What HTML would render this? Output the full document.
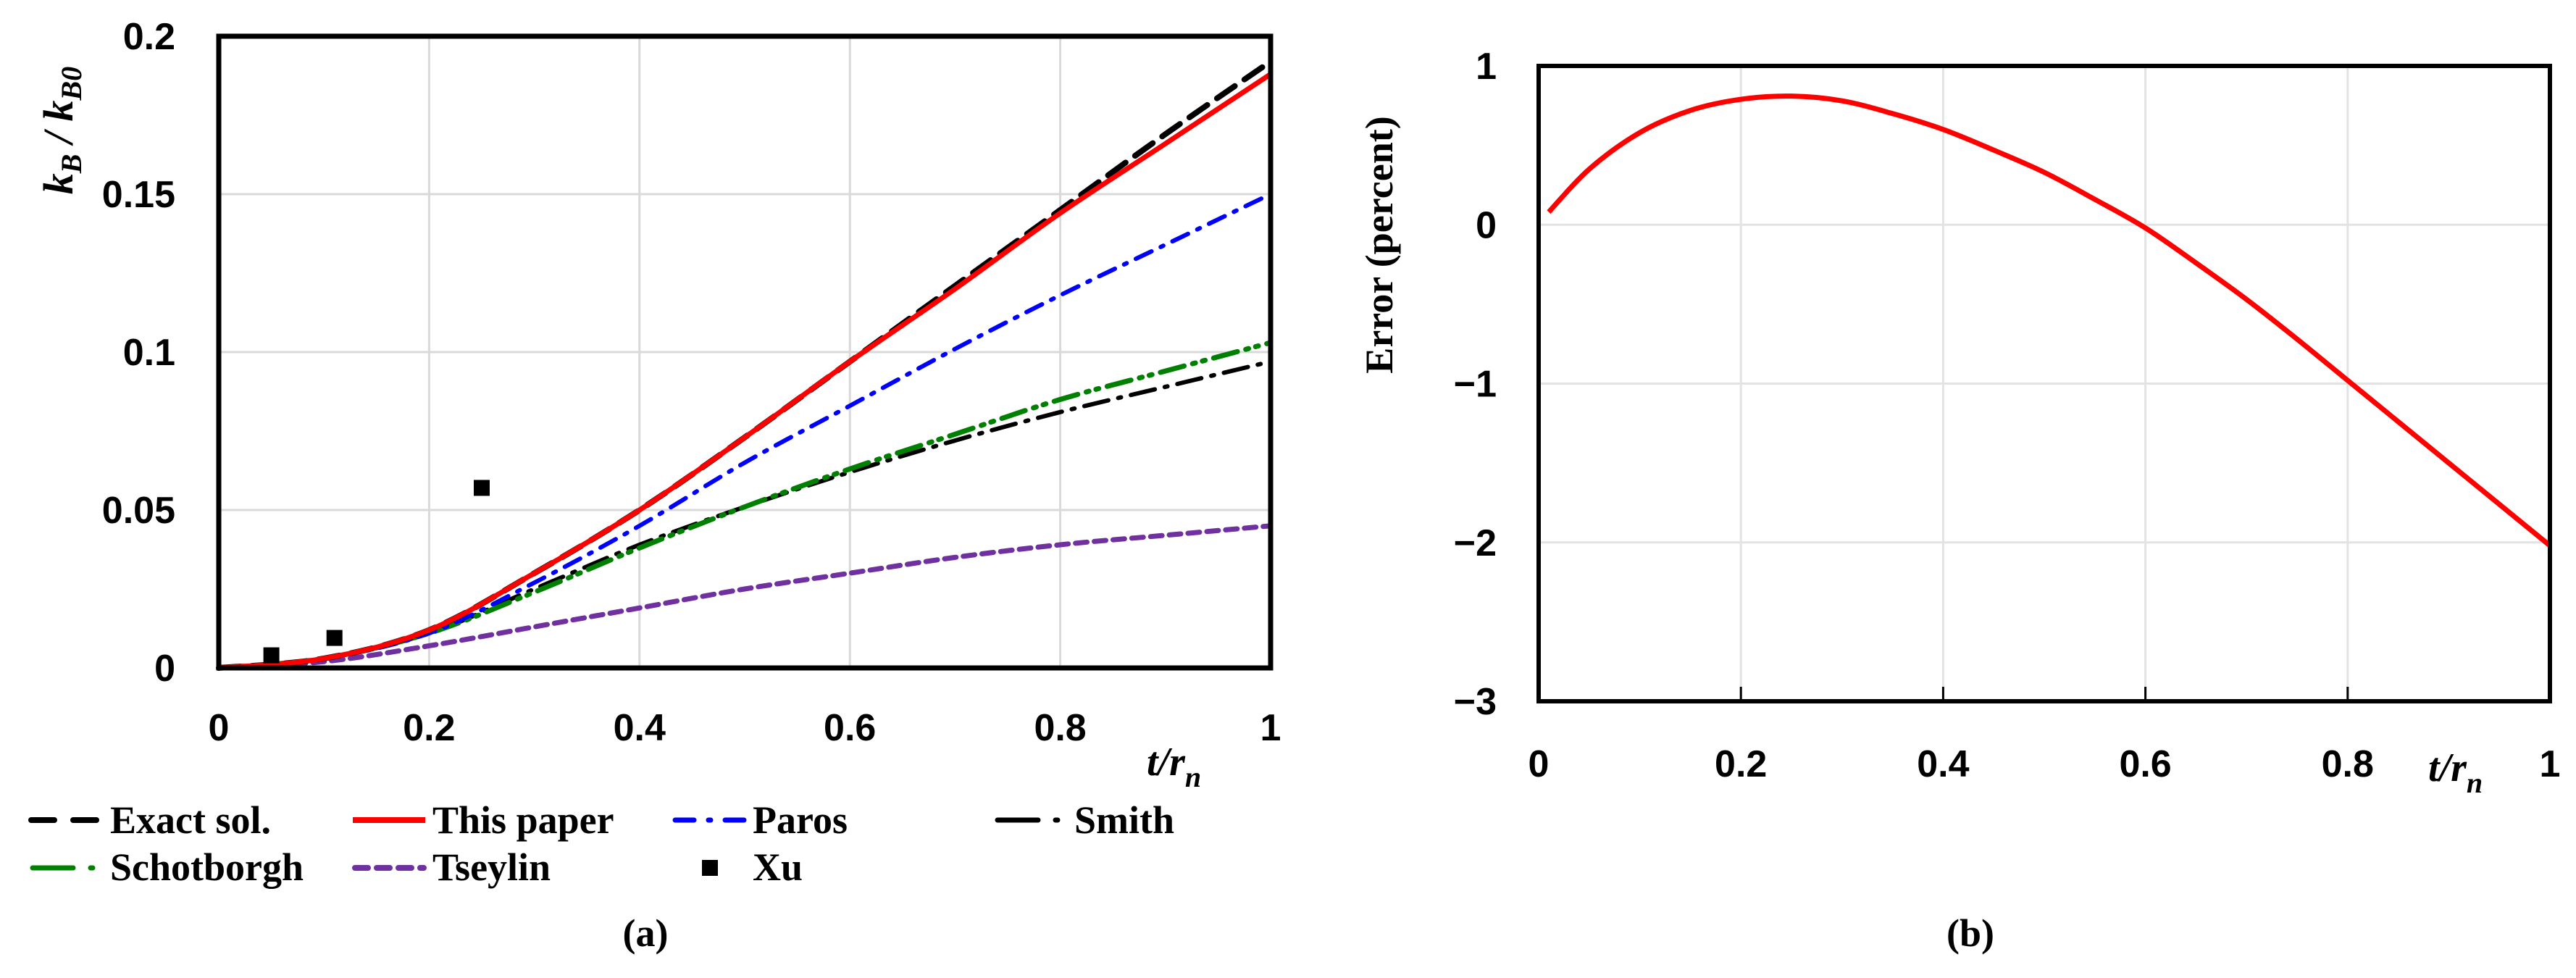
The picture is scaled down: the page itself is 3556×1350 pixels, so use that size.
<!DOCTYPE html>
<html><head><meta charset="utf-8"><style>
html,body{margin:0;padding:0;background:#fff;width:3556px;height:1350px;overflow:hidden}
svg{display:block}
.tk{font-family:"Liberation Sans",sans-serif;font-weight:bold;font-size:52px;fill:#000}
.lg{font-family:"Liberation Serif",serif;font-weight:bold;font-size:54px;fill:#000}
.it{font-family:"Liberation Serif",serif;font-weight:bold;font-style:italic;fill:#000}
</style></head><body>
<svg id="svg" width="3556" height="1350" xmlns="http://www.w3.org/2000/svg"></svg>
<script>
const xsA=[0,0.1,0.2,0.3,0.4,0.5,0.6,0.7,0.8,0.9,1];
const exactY=[0,0.003,0.012,0.03,0.05,0.073,0.097,0.121,0.145,0.169,0.192];
const paperY=[0,0.003,0.012,0.03,0.05,0.073,0.097,0.12,0.144,0.166,0.188];
const parosY=[0,0.003,0.011,0.027,0.045,0.065,0.083,0.101,0.118,0.134,0.15];
const schotY=[0,0.003,0.011,0.024,0.038,0.051,0.063,0.074,0.085,0.094,0.103];
const smithY=[0,0.003,0.011,0.025,0.039,0.051,0.062,0.072,0.081,0.089,0.097];
const tseyY=[0,0.002,0.007,0.013,0.019,0.025,0.03,0.035,0.039,0.042,0.045];
const xuX=[0.05,0.11,0.25];
const xuY=[0.004,0.0095,0.057];
const errX=[0.01,0.05,0.1,0.15,0.2,0.25,0.3,0.35,0.4,0.45,0.5,0.55,0.6,0.65,0.7,0.75,0.8,0.85,0.9,0.95,1];
const errY=[0.08,0.35,0.58,0.72,0.79,0.81,0.78,0.70,0.6,0.47,0.33,0.16,-0.02,-0.24,-0.47,-0.72,-0.98,-1.24,-1.5,-1.76,-2.02];
const xTicks=["0","0.2","0.4","0.6","0.8","1"];
const yTicksA=["0","0.05","0.1","0.15","0.2"];
const yTicksB=["-3","-2","-1","0","1"];

const NS="http://www.w3.org/2000/svg";
const svg=document.getElementById('svg');
function mk(tag,attrs,parent){const e=document.createElementNS(NS,tag);for(const k in attrs)e.setAttribute(k,attrs[k]);(parent||svg).appendChild(e);return e;}
const A={l:302,r:1754,t:50,b:922};
const ax=v=>A.l+v*(A.r-A.l), ay=v=>A.b-v/0.2*(A.b-A.t);
const B={l:2124,r:3520,t:91,b:968};
const bx=v=>B.l+v*(B.r-B.l), by=v=>B.b-(v+3)/4*(B.b-B.t);
function smooth(xs,ys,fx,fy){const p=xs.map((x,i)=>[fx(x),fy(ys[i])]);let d="M"+p[0][0]+","+p[0][1];
 for(let i=0;i<p.length-1;i++){const p0=p[i-1]||p[i],p1=p[i],p2=p[i+1],p3=p[i+2]||p2;
 d+=" C"+(p1[0]+(p2[0]-p0[0])/6)+","+(p1[1]+(p2[1]-p0[1])/6)+" "+(p2[0]-(p3[0]-p1[0])/6)+","+(p2[1]-(p3[1]-p1[1])/6)+" "+p2[0]+","+p2[1];}return d;}

xTicks.forEach((t,i)=>{const v=i*0.2;
 if(i>0&&i<5){const g=mk('line',{x1:ax(v),x2:ax(v),y1:A.t,y2:A.b,stroke:'#d9d9d9','stroke-width':3});
 }
 const tx=mk('text',{x:ax(v),y:1022,'text-anchor':'middle',class:'tk'});tx.textContent=t;
 });
yTicksA.forEach((t,i)=>{const v=i*0.05;
 if(i>0&&i<4){const g=mk('line',{x1:A.l,x2:A.r,y1:ay(v),y2:ay(v),stroke:'#d9d9d9','stroke-width':3});
 }
 const tx=mk('text',{x:242,y:ay(v)+18,'text-anchor':'end',class:'tk'});tx.textContent=t;
 });
xTicks.forEach((t,i)=>{const v=i*0.2;
 if(i>0&&i<5){const g=mk('line',{x1:bx(v),x2:bx(v),y1:B.t,y2:B.b,stroke:'#e3e3e3','stroke-width':3});
 
 const tk=mk('line',{x1:bx(v),x2:bx(v),y1:B.b-20,y2:B.b,stroke:'#000','stroke-width':3});
 }
 const tx=mk('text',{x:bx(v),y:1072,'text-anchor':'middle',class:'tk'});tx.textContent=t;
 });
yTicksB.forEach((t,i)=>{const v=i-3;
 if(i>0&&i<4){const g=mk('line',{x1:B.l,x2:B.r,y1:by(v),y2:by(v),stroke:'#e3e3e3','stroke-width':3});
 }
 const tx=mk('text',{x:2066,y:by(v)+18,'text-anchor':'end',class:'tk'});tx.textContent=t.replace('-','\u2212');
 });

const series=[
 {ys:tseyY,c:'#7030a0',w:7,d:'16 10',n:'tseylin-line'},
 {ys:smithY,c:'#000',w:6,d:'34 14 4 14',n:'smith-line'},
 {ys:schotY,c:'#008000',w:7,d:'34 12 4 10 4 12',n:'schotborgh-line'},
 {ys:parosY,c:'#0000ff',w:6,d:'24 14 4 14',n:'paros-line'},
 {ys:exactY,c:'#000',w:8,d:'30 16',n:'exact-line'},
 {ys:paperY,c:'#ff0000',w:7,d:'',n:'this-paper-line'}];
series.forEach(s=>{const p=mk('path',{d:smooth(xsA,s.ys,ax,ay),fill:'none',stroke:s.c,'stroke-width':s.w,'stroke-dasharray':s.d,'stroke-linecap':'round'});
 });
xuX.forEach((x,i)=>{const r=mk('rect',{x:ax(x)-11,y:ay(xuY[i])-11,width:22,height:22,fill:'#000'});
 });
const eb=mk('path',{d:smooth(errX,errY,bx,by),fill:'none',stroke:'#ff0000','stroke-width':7});


const fa=mk('rect',{x:A.l,y:A.t,width:A.r-A.l,height:A.b-A.t,fill:'none',stroke:'#000','stroke-width':7});

const fb=mk('rect',{x:B.l,y:B.t,width:B.r-B.l,height:B.b-B.t,fill:'none',stroke:'#000','stroke-width':6});

</script>
<svg width="3556" height="1350" style="position:absolute;left:0;top:0" xmlns="http://www.w3.org/2000/svg">
<text class="it" font-size="58" transform="translate(100,180) rotate(-90)" text-anchor="middle">k<tspan font-size="40" dy="12">B</tspan><tspan dy="-12"> / k</tspan><tspan font-size="40" dy="12">B0</tspan></text>
<text class="it" font-size="56" x="1583" y="1070">t/r<tspan font-size="40" dy="16">n</tspan></text>
<text class="lg" font-size="56" transform="translate(1922,338) rotate(-90)" text-anchor="middle">Error (percent)</text>
<text class="it" font-size="56" x="3352" y="1078">t/r<tspan font-size="40" dy="16">n</tspan></text>
<g>
<line x1="43" x2="133" y1="1132" y2="1132" stroke="#000" stroke-width="8" stroke-dasharray="32 26" stroke-linecap="round"/>
<text class="lg" x="152" y="1150">Exact sol.</text>
<line x1="487" x2="587" y1="1132" y2="1132" stroke="#ff0000" stroke-width="8"/>
<text class="lg" x="597" y="1150">This paper</text>
<line x1="932" x2="1030" y1="1132" y2="1132" stroke="#0000ff" stroke-width="7" stroke-dasharray="26 20 3 20" stroke-linecap="round"/>
<text class="lg" x="1039" y="1150">Paros</text>
<line x1="1377" x2="1465" y1="1132" y2="1132" stroke="#000" stroke-width="7" stroke-dasharray="56 24 3 40" stroke-linecap="round"/>
<text class="lg" x="1483" y="1150">Smith</text>
<line x1="45" x2="133" y1="1198" y2="1198" stroke="#008000" stroke-width="7" stroke-dasharray="56 24 3 40" stroke-linecap="round"/>
<text class="lg" x="152" y="1215">Schotborgh</text>
<line x1="490" x2="585" y1="1198" y2="1198" stroke="#7030a0" stroke-width="8" stroke-dasharray="18 12" stroke-linecap="round"/>
<text class="lg" x="597" y="1215">Tseylin</text>
<rect x="969" y="1187" width="22" height="22" fill="#000"/>
<text class="lg" x="1039" y="1215">Xu</text>
</g>
<text class="lg" font-size="60" x="891" y="1306" text-anchor="middle">(a)</text>
<text class="lg" font-size="60" x="2720" y="1306" text-anchor="middle">(b)</text>
</svg>
</body></html>
